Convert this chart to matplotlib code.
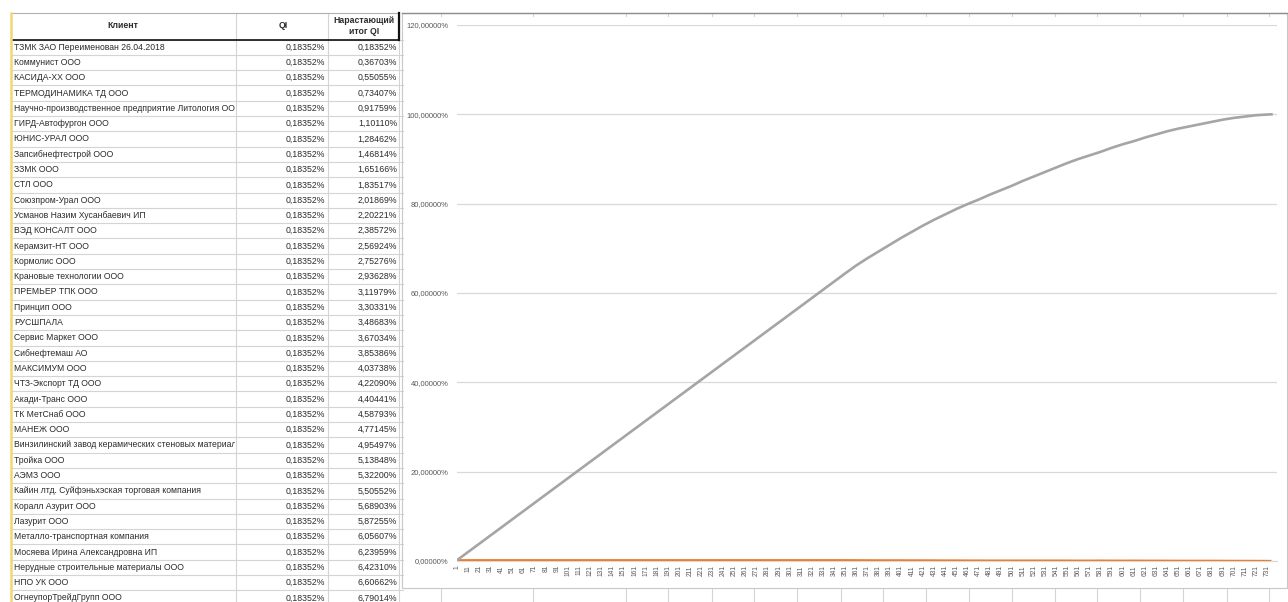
import matplotlib
matplotlib.use('Agg')
import matplotlib.pyplot as plt
from matplotlib.ticker import FixedLocator, FuncFormatter

plt.rcParams['font.family'] = ['Liberation Sans', 'DejaVu Sans']

# ---- table data (left part of the sheet) ----
clients = [
    'ТЗМК ЗАО Переименован 26.04.2018',
    'Коммунист ООО',
    'КАСИДА-ХХ ООО',
    'ТЕРМОДИНАМИКА ТД ООО',
    'Научно-производственное предприятие Литология ООО',
    'ГИРД-Автофургон ООО',
    'ЮНИС-УРАЛ ООО',
    'Запсибнефтестрой ООО',
    'ЗЗМК ООО',
    'СТЛ ООО',
    'Союзпром-Урал ООО',
    'Усманов Назим Хусанбаевич ИП',
    'ВЭД КОНСАЛТ ООО',
    'Керамзит-НТ ООО',
    'Кормолис ООО',
    'Крановые технологии ООО',
    'ПРЕМЬЕР ТПК ООО',
    'Принцип ООО',
    'РУСШПАЛА',
    'Сервис Маркет ООО',
    'Сибнефтемаш АО',
    'МАКСИМУМ ООО',
    'ЧТЗ-Экспорт ТД ООО',
    'Акади-Транс ООО',
    'ТК МетСнаб ООО',
    'МАНЕЖ ООО',
    'Винзилинский завод керамических стеновых материалов',
    'Тройка ООО',
    'АЭМЗ ООО',
    'Кайин лтд. Суйфэньхэская торговая компания',
    'Коралл Азурит ООО',
    'Лазурит ООО',
    'Металло-транспортная компания',
    'Мосяева Ирина Александровна ИП',
    'Нерудные строительные материалы ООО',
    'НПО УК ООО',
    'ОгнеупорТрейдГрупп ООО',
]
qi = [0.18352] * 37
qi_cum = [0.18352, 0.36703, 0.55055, 0.73407, 0.91759, 1.10110, 1.28462, 1.46814,
          1.65166, 1.83517, 2.01869, 2.20221, 2.38572, 2.56924, 2.75276, 2.93628,
          3.11979, 3.30331, 3.48683, 3.67034, 3.85386, 4.03738, 4.22090, 4.40441,
          4.58793, 4.77145, 4.95497, 5.13848, 5.32200, 5.50552, 5.68903, 5.87255,
          6.05607, 6.23959, 6.42310, 6.60662, 6.79014]

# ---- chart data (read at every 10th category) ----
chart_cats = list(range(1, 732, 10)) + [735]
chart_cum = [0.18, 2.02, 3.85, 5.69, 7.52, 9.36, 11.19, 13.03, 14.87, 16.70,
             18.54, 20.37, 22.21, 24.04, 25.88, 27.71, 29.55, 31.38, 33.22, 35.05,
             36.89, 38.72, 40.56, 42.39, 44.23, 46.06, 47.90, 49.73, 51.57, 53.40,
             55.24, 57.07, 58.91, 60.75, 62.58, 64.42,
             66.2, 67.8, 69.3, 70.8, 72.3, 73.7, 75.1, 76.4, 77.6, 78.8,
             79.9, 80.9, 82.0, 83.0, 84.0, 85.1, 86.1, 87.1, 88.1, 89.1,
             90.0, 90.8, 91.6, 92.5, 93.3, 94.0, 94.8, 95.5, 96.2, 96.8,
             97.3, 97.8, 98.3, 98.8, 99.2, 99.5, 99.8, 99.95, 100.0]
chart_qi = [0.18] * 36 + [0.17, 0.16, 0.15, 0.15, 0.15, 0.14, 0.14, 0.13, 0.12, 0.12,
                          0.11, 0.10, 0.10, 0.10, 0.10, 0.10, 0.10, 0.10, 0.10, 0.09,
                          0.08, 0.08, 0.09, 0.08, 0.07, 0.08, 0.07, 0.07, 0.06, 0.05,
                          0.05, 0.05, 0.05, 0.04, 0.03, 0.03, 0.02, 0.01, 0.01]
y_ticks = [0, 20, 40, 60, 80, 100, 120]

W, H = 1288, 602


def pct(v):
    return f'{v:.5f}'.replace('.', ',') + '%'


fig = plt.figure(figsize=(W / 100, H / 100), dpi=100)
fig.patch.set_facecolor('white')

# background axes in pixel coordinates
bg = fig.add_axes([0, 0, 1, 1])
bg.set_xlim(0, W)
bg.set_ylim(H, 0)
bg.axis('off')

grid_c = '#d4d4d4'
txt_c = '#2b2b2b'
row_top = 39.5
row_h = 15.3
col_x = [12, 236, 328, 399]

# row lines
for k in range(len(clients) + 1):
    y = row_top + k * row_h
    bg.plot([12, 403], [y, y], color=grid_c, lw=0.8)
# column lines
for x in col_x[1:]:
    bg.plot([x, x], [13, H], color=grid_c, lw=0.8)
# header borders
bg.plot([12, 399], [13, 13], color='#b0b0b0', lw=0.8)
bg.plot([12, 399], [row_top, row_top], color='#111111', lw=1.2)
bg.plot([399, 399], [13, row_top], color='#111111', lw=1.6)
# yellow left strip
bg.plot([11, 11], [13, H], color='#f2d675', lw=1.8)

bg.text(123, 26, 'Клиент', ha='center', va='center', fontsize=6.3,
        fontweight='bold', color=txt_c)
bg.text(283, 26, 'QI', ha='center', va='center', fontsize=6.3,
        fontweight='bold', color=txt_c)
bg.text(364, 26, 'Нарастающий\nитог QI', ha='center', va='center', fontsize=6.3,
        fontweight='bold', color=txt_c, linespacing=1.3)

# name column with clipping
names_ax = fig.add_axes([13 / W, 0, (235 - 13) / W, 1])
names_ax.set_xlim(13, 235)
names_ax.set_ylim(H, 0)
names_ax.axis('off')
names_ax.patch.set_alpha(0)

for i, (name, q, c) in enumerate(zip(clients, qi, qi_cum)):
    yc = row_top + (i + 0.5) * row_h
    names_ax.text(14, yc, name, ha='left', va='center', fontsize=6.2,
                  color=txt_c, clip_on=True)
    bg.text(325, yc, pct(q), ha='right', va='center', fontsize=6.3, color=txt_c)
    bg.text(397, yc, pct(c), ha='right', va='center', fontsize=6.3, color=txt_c)

# chart frame and sheet cells peeking around it
sheet_cols = [441, 533, 626, 668, 712, 754, 797, 841, 883, 926, 969, 1012,
              1055, 1097, 1140, 1183, 1227, 1269]
for x in sheet_cols:
    bg.plot([x, x], [588, H], color=grid_c, lw=0.8)
    bg.plot([x, x], [13, 16], color=grid_c, lw=0.8)
bg.plot([402, 1287, 1287, 402, 402], [13, 13, 588, 588, 13], color='#c8c8c8', lw=0.8)
bg.plot([402, 1287], [13, 13], color='#8c8c8c', lw=1.0)

# ---- chart ----
ax = fig.add_axes([457 / W, 1 - 561 / H, (1277 - 457) / W, (561 - 25) / H])
ax.patch.set_alpha(0)
ax.plot(chart_cats, chart_qi, color='#ED7D31', lw=1.6, solid_capstyle='butt', zorder=3)
ax.plot(chart_cats, chart_cum, color='#A5A5A5', lw=1.9, zorder=4)
ax.set_xlim(1, 740)
ax.set_ylim(0, 120)
ax.yaxis.set_major_locator(FixedLocator(y_ticks))
ax.yaxis.set_major_formatter(FuncFormatter(lambda v, p: pct(v)))
ax.set_xticks(chart_cats[:-1])
ax.set_xticklabels([str(c) for c in chart_cats[:-1]], rotation=90)
ax.grid(axis='y', color='#d9d9d9', lw=0.9)
ax.set_axisbelow(True)
for s in ['top', 'right', 'left']:
    ax.spines[s].set_visible(False)
ax.spines['bottom'].set_color('#d9d9d9')
ax.tick_params(axis='y', length=0, pad=6, labelsize=5.5, labelcolor='#595959')
ax.tick_params(axis='x', length=0, pad=3, labelsize=4.8, labelcolor='#595959')

fig.savefig('out.png', dpi=100)
